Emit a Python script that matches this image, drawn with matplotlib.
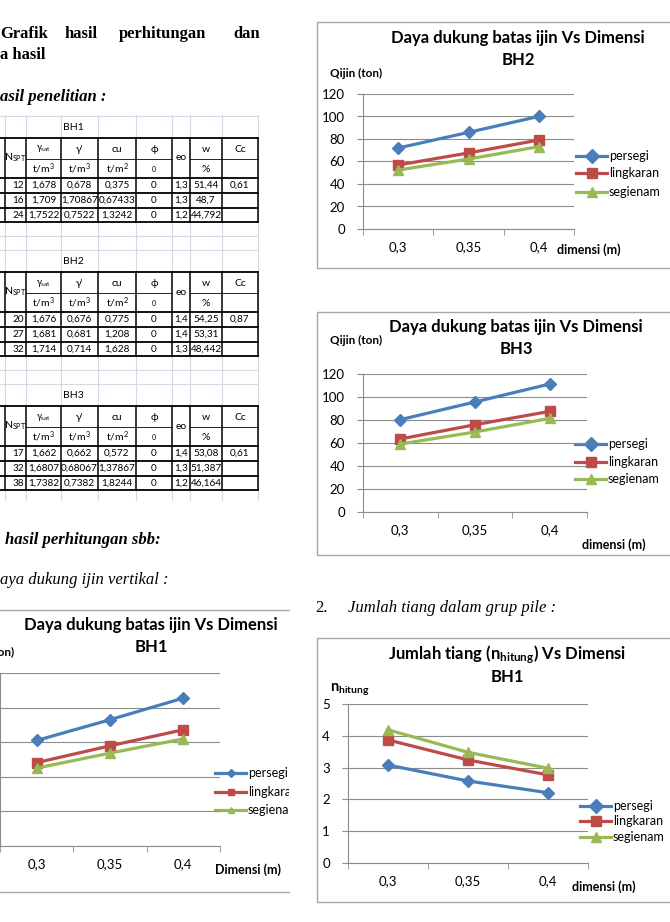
import numpy as np
import matplotlib
matplotlib.use('Agg')
import matplotlib.pyplot as plt
from matplotlib.patches import Rectangle
from matplotlib.transforms import Bbox, TransformedBbox

W, H = 670, 922

# data
DIMENSI = ['0,3', '0,35', '0,4']
SERIES = ['persegi', 'lingkaran', 'segienam']

BH1_PERSEGI   = [61.0, 73.0, 85.5]
BH1_LINGKARAN = [48.2, 57.9, 67.2]
BH1_SEGIENAM  = [45.0, 53.7, 61.9]

BH2_PERSEGI   = [72.0, 85.9, 100.1]
BH2_LINGKARAN = [56.9, 67.6, 79.1]
BH2_SEGIENAM  = [52.4, 62.2, 73.2]

BH3_PERSEGI   = [80.3, 95.7, 111.3]
BH3_LINGKARAN = [63.5, 75.9, 87.5]
BH3_SEGIENAM  = [59.1, 69.6, 81.4]

N_PERSEGI   = [3.08, 2.58, 2.21]
N_LINGKARAN = [3.87, 3.24, 2.77]
N_SEGIENAM  = [4.19, 3.48, 2.98]

TABLE_HEAD = [r'N$_{\mathregular{SPT}}$', r'$\mathregular{\gamma_{sat}}$', "γ'", 'cu', 'ϕ', 'eo', 'w', 'Cc']
TABLE_UNIT = ['', r't/m$^\mathregular{3}$', r't/m$^\mathregular{3}$', r't/m$^\mathregular{2}$', '0', '', '%', '']
BH1_ROWS = [['12', '1,678', '0,678', '0,375', '0', '1,3', '51,44', '0,61'],
            ['16', '1,709', '1,70867', '0,67433', '0', '1,3', '48,7', ''],
            ['24', '1,7522', '0,7522', '1,3242', '0', '1,2', '44,792', '']]
BH2_ROWS = [['20', '1,676', '0,676', '0,775', '0', '1,4', '54,25', '0,87'],
            ['27', '1,681', '0,681', '1,208', '0', '1,4', '53,31', ''],
            ['32', '1,714', '0,714', '1,628', '0', '1,3', '48,442', '']]
BH3_ROWS = [['17', '1,662', '0,662', '0,572', '0', '1,4', '53,08', '0,61'],
            ['32', '1,6807', '0,68067', '1,37867', '0', '1,3', '51,387', ''],
            ['38', '1,7382', '0,7382', '1,8244', '0', '1,2', '46,164', '']]

COLORS  = ['#4A7EBB', '#BE4B48', '#98B954']
MARKERS = ['D', 's', '^']
MSIZE   = [6.5, 7.5, 7.5]
GRID    = '#8c8c8c'
SANS    = ['Lato', 'DejaVu Sans']
SERIF   = 'Liberation Serif'

plt.rcParams['mathtext.fontset'] = 'custom'
plt.rcParams['mathtext.rm'] = 'Lato'
plt.rcParams['mathtext.it'] = 'Lato:italic'
plt.rcParams['mathtext.bf'] = 'Lato:bold'

fig = plt.figure(figsize=(W / 100, H / 100), dpi=100)
fig.patch.set_facecolor('white')

# page axes in pixel coordinates (y down)
page = fig.add_axes([0, 0, 1, 1])
page.set_xlim(0, W)
page.set_ylim(H, 0)
page.axis('off')


def fbox(x0, y0, x1, y1):
    return [x0 / W, 1 - y1 / H, (x1 - x0) / W, (y1 - y0) / H]


# ---------- document text ----------
for word, x in [('Grafik', 0), ('hasil', 65), ('perhitungan', 119), ('dan', 233)]:
    page.text(x, 34, word, family=SERIF, fontsize=12, fontweight='bold', va='center')
page.text(0, 55, 'a hasil', family=SERIF, fontsize=12, fontweight='bold', va='center')
page.text(0, 97, 'asil penelitian :', family=SERIF, fontsize=12, fontweight='bold',
          style='italic', va='center')
page.text(5, 540, 'hasil perhitungan sbb:', family=SERIF, fontsize=12, fontweight='bold',
          style='italic', va='center')
page.text(0, 580, 'aya dukung ijin vertikal :', family=SERIF, fontsize=12,
          style='italic', va='center')
page.text(315, 608, '2.', family=SERIF, fontsize=12, va='center')
page.text(348, 608, 'Jumlah tiang dalam grup pile :', family=SERIF, fontsize=12,
          style='italic', va='center')

# ---------- soil tables ----------
COLS = [5, 26, 61, 98, 136, 172, 190, 222, 258]
FAINT = '#d5d9e6'
for x in COLS:
    page.plot([x, x], [115, 500], color=FAINT, lw=0.8, zorder=1)


def soil_table(top, label, rows, prev_bottom):
    y_rows = [top, top + 21, top + 40, top + 55, top + 70, top + 84]
    # faint excel grid above the table
    for y in [top - 22] + ([(prev_bottom + top - 22) / 2] if prev_bottom else []):
        page.plot([0, COLS[-1]], [y, y], color=FAINT, lw=0.8, zorder=1)
    page.text(63, top - 11, label, fontsize=7.5, family=SANS, va='center')
    page.add_patch(Rectangle((0, top), COLS[-1], 84, facecolor='white', edgecolor='none', zorder=2))
    for i, y in enumerate(y_rows):
        if i == 1:
            for c in [1, 2, 3, 4, 6, 7]:
                page.plot([COLS[c], COLS[c + 1]], [y, y], color='black', lw=0.6, zorder=3)
        else:
            page.plot([0, COLS[-1]], [y, y], color='black', lw=1.3, zorder=3)
    for x in COLS:
        page.plot([x, x], [top, top + 84], color='black', lw=1.1, zorder=3)
    for c, (head, unit) in enumerate(zip(TABLE_HEAD, TABLE_UNIT)):
        xc = (COLS[c] + COLS[c + 1]) / 2
        if unit == '' and head in (TABLE_HEAD[0], 'eo'):
            page.text(xc, top + 20, head, fontsize=7.5, family=SANS, ha='center', va='center', zorder=4)
        else:
            page.text(xc, top + 11, head, fontsize=6.5 if c == 1 else 7.5, family=SANS,
                      ha='center', va='center', zorder=4)
            page.text(xc, top + 31, unit, fontsize=5 if unit == '0' else 7.5, family=SANS,
                      ha='center', va='center', zorder=4)
    for r, row in enumerate(rows):
        yc = (y_rows[r + 2] + y_rows[r + 3]) / 2
        for c, val in enumerate(row):
            if c == 0:
                page.text(COLS[1] - 2, yc, val, fontsize=7.2, family=SANS, ha='right',
                          va='center', zorder=4)
            else:
                page.text((COLS[c] + COLS[c + 1]) / 2, yc, val, fontsize=7.2, family=SANS,
                          ha='center', va='center', zorder=4)
    return top + 84


b1 = soil_table(138, 'BH1', BH1_ROWS, None)
b2 = soil_table(272, 'BH2', BH2_ROWS, b1)
b3 = soil_table(406, 'BH3', BH3_ROWS, b2)


# ---------- charts ----------
def chart(plot_box, series, ymax, ystep, title_xy, title1, title2, ylab_xy, ylab,
          xlab_xy, xlab, leg_x, leg_y, leg_ms=7, ylab_size=8.5, clip=None):
    ax = fig.add_axes(fbox(*plot_box))
    ax.patch.set_alpha(0)
    x = np.arange(len(DIMENSI))
    for name, vals, col, mk, ms in zip(SERIES, series, COLORS, MARKERS, MSIZE):
        ax.plot(x, vals, color=col, lw=2.3, marker=mk, ms=ms, clip_on=False, zorder=3)
    ax.set_xlim(-0.5, 2.5)
    ax.set_ylim(0, ymax)
    yt = np.arange(0, ymax + ystep / 2, ystep)
    ax.set_yticks(yt)
    # the BH1 chart has its value labels beyond the page edge
    ax.set_yticklabels([] if clip is not None else [f'{v:g}' for v in yt])
    ax.yaxis.grid(True, color=GRID, lw=0.8)
    ax.set_axisbelow(True)
    ax.set_xticks(x)
    ax.set_xticklabels(DIMENSI)
    ax.set_xticks([-0.5, 0.5, 1.5, 2.5], minor=True)
    ax.tick_params(axis='x', which='major', length=0, pad=9, labelsize=9.5)
    ax.tick_params(axis='x', which='minor', length=4, color=GRID)
    ax.tick_params(axis='y', length=4, color=GRID, pad=9, labelsize=9.5)
    for lab in ax.get_xticklabels() + ax.get_yticklabels():
        lab.set_family(SANS)
    for s in ['top', 'right']:
        ax.spines[s].set_visible(False)
    for s in ['left', 'bottom']:
        ax.spines[s].set_color(GRID)
        ax.spines[s].set_linewidth(0.8)

    tx, ty = title_xy
    page.text(tx, ty, title1, fontsize=12, fontweight='bold', family=SANS,
              ha='center', va='center')
    page.text(tx, ty + 22, title2, fontsize=12, fontweight='bold', family=SANS,
              ha='center', va='center')
    page.text(ylab_xy[0], ylab_xy[1], ylab, fontsize=ylab_size, fontweight='bold', family=SANS,
              ha=ylab_xy[2], va='center')
    page.text(xlab_xy[0], xlab_xy[1], xlab, fontsize=9, fontweight='bold', family=SANS,
              va='center')
    for name, col, mk, y in zip(SERIES, COLORS, MARKERS, leg_y):
        page.plot([leg_x, leg_x + 31], [y, y], color=col, lw=2.3, zorder=3)
        page.plot([leg_x + 15.5], [y], color=col, marker=mk, ms=leg_ms, zorder=3)
        t = page.text(leg_x + 33, y, name, fontsize=9, family=SANS, va='center')
        if clip is not None:
            t.set_clip_box(clip)
            t.set_clip_on(True)
    return ax


# right hand frames
for y0, y1 in [(22, 268), (312, 555), (638, 902)]:
    page.add_patch(Rectangle((317, y0), 360, y1 - y0, facecolor='none', edgecolor='#a6a6a6', lw=1))
# BH1 chart is cut by the page edge: only top and bottom border visible
page.plot([0, 289], [610, 610], color='#a6a6a6', lw=1)
page.plot([0, 289], [892, 892], color='#a6a6a6', lw=1)
bh1_clip = TransformedBbox(Bbox([[0, 600], [289, 900]]), page.transData)

TITLE_Q = 'Daya dukung batas ijin Vs Dimensi'
TITLE_N = r'Jumlah tiang (n$_{\mathbf{hitung}}$) Vs Dimensi'

chart((363, 94, 574, 229), [BH2_PERSEGI, BH2_LINGKARAN, BH2_SEGIENAM], 120, 20,
      (518, 38), TITLE_Q, 'BH2', (330, 73, 'left'), 'Qijin (ton)', (557, 250), 'dimensi (m)',
      576, [156, 173, 192])
chart((363, 374, 587, 512), [BH3_PERSEGI, BH3_LINGKARAN, BH3_SEGIENAM], 120, 20,
      (516, 327), TITLE_Q, 'BH3', (330, 340, 'left'), 'Qijin (ton)', (582, 545), 'dimensi (m)',
      575, [444, 462, 479])
chart((348, 704, 588, 863), [N_PERSEGI, N_LINGKARAN, N_SEGIENAM], 5, 1,
      (507, 655), TITLE_N, 'BH1', (330, 690, 'left'), r'n$_{\mathbf{hitung}}$', (572, 887),
      'dimensi (m)', 580, [806, 821, 837], ylab_size=10.5)
chart((0, 673, 220, 846), [BH1_PERSEGI, BH1_LINGKARAN, BH1_SEGIENAM], 100, 20,
      (151, 625), TITLE_Q, 'BH1', (14, 652, 'right'), 'Qijin (ton)', (215, 870), 'Dimensi (m)',
      215, [773, 792, 810], leg_ms=4.5, clip=bh1_clip)

fig.savefig('out.png', dpi=100)
